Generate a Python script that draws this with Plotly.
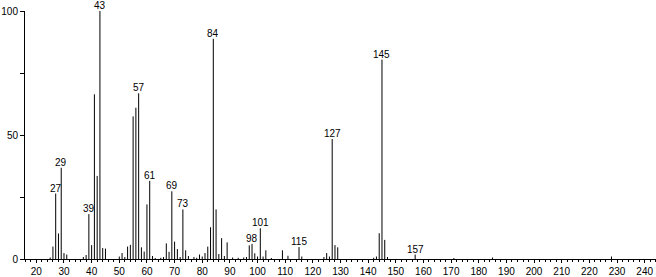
import plotly.graph_objects as go

mz = [25, 26, 27, 28, 29, 30, 31, 37, 38, 39, 40, 41, 42, 43, 44, 45,
      50, 51, 52, 53, 54, 55, 56, 57, 58, 59, 60, 61, 62, 63, 65, 66,
      67, 68, 69, 70, 71, 72, 73, 74, 75, 77, 78, 79, 80, 81, 82, 83,
      84, 85, 86, 87, 88, 89, 91, 93, 95, 96, 97, 98, 99, 100, 101, 102,
      103, 105, 109, 111, 115, 116, 124, 125, 126, 127, 128, 129, 142, 143,
      144, 145, 146, 147, 157, 171, 185, 228]
intensity = [0.6, 5, 26.4, 10.3, 36.8, 2.4, 1.8, 0.8, 1.6, 18.1, 5.6, 66.4, 33.5, 100, 4.4, 4.2,
             1.0, 2.4, 0.8, 5, 5.7, 57.5, 61, 66.8, 4.7, 3, 22, 31.5, 1.2, 0.4, 0.5, 0.8,
             6.3, 2.9, 27.3, 7, 4, 0.8, 20, 3.5, 1.2, 0.8, 0.5, 1.8, 1, 2.4, 5, 12.8,
             88.8, 20, 2, 8.4, 1.2, 6.7, 0.6, 0.5, 0.6, 0.8, 5.5, 6.1, 2.3, 1, 12.4, 1,
             3.5, 0.4, 3.5, 1.3, 4.8, 1, 0.8, 2.4, 1, 48.4, 5.6, 4.7, 0.5, 1,
             10.4, 80.4, 7.7, 0.8, 1.8, 0.4, 0.6, 1]
labeled_mz = [27, 29, 39, 43, 57, 61, 69, 73, 84, 98, 101, 115, 127, 145, 157]
x_ticks = list(range(20, 241, 10))
y_ticks = [0, 25, 50, 75, 100]
y_ticktext = ["0", "", "50", "", "100"]

xs, ys = [], []
for m, v in zip(mz, intensity):
    xs += [m, m, None]
    ys += [0, v, None]

fig = go.Figure()
fig.add_trace(go.Scatter(x=xs, y=ys, mode="lines",
                         line=dict(color="black", width=1),
                         hoverinfo="skip", showlegend=False))

lookup = dict(zip(mz, intensity))
for m in labeled_mz:
    fig.add_annotation(x=m, y=lookup[m], text=str(m), showarrow=False,
                       yanchor="bottom", xanchor="center", yshift=-1, borderpad=0,
                       font=dict(size=10, color="black", family="Liberation Sans"))

fig.update_layout(
    width=656, height=277,
    margin=dict(l=25, r=0, t=11, b=16),
    paper_bgcolor="white", plot_bgcolor="white",
    font=dict(family="Liberation Sans", size=10, color="black"),
    xaxis=dict(range=[15.9, 244.1], tickvals=x_ticks, showgrid=False, zeroline=False,
               showline=True, linecolor="black", linewidth=1,
               ticks="outside", ticklen=3, tickcolor="black", tickfont=dict(size=10),
               minor=dict(dtick=2, tick0=0, ticks="outside", ticklen=2, tickcolor="black")),
    yaxis=dict(range=[0, 100], tickvals=y_ticks, ticktext=y_ticktext, showgrid=False,
               zeroline=False, showline=True, linecolor="black", linewidth=1,
               ticks="outside", ticklen=4, tickcolor="black", tickfont=dict(size=10)),
)

fig.write_html("out.html")
